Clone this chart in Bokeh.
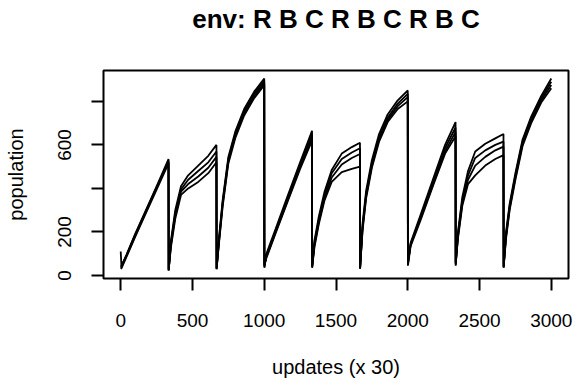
from bokeh.plotting import figure
from bokeh.models import Range1d, FixedTicker, Title
from bokeh.embed import file_html
from bokeh.resources import INLINE

title_text = "env: R B C R B C R B C"
x_label = "updates (x 30)"
y_label = "population"
x_ticks = [0, 500, 1000, 1500, 2000, 2500, 3000]
y_ticks = [0, 200, 400, 600, 800]
y_tick_labels = {0: "0", 200: "200", 400: "", 600: "600", 800: ""}

updates = [
    0, 5, 40, 100, 170, 250, 333,
    334, 350, 380, 420, 470, 540, 610, 667,
    668, 685, 710, 750, 800, 860, 930, 1000,
    1001, 1015, 1080, 1160, 1250, 1333,
    1334, 1350, 1380, 1420, 1470, 1540, 1610, 1667,
    1668, 1685, 1710, 1750, 1800, 1860, 1930, 2000,
    2001, 2020, 2090, 2180, 2260, 2333,
    2334, 2350, 2380, 2420, 2470, 2540, 2610, 2667,
    2668, 2685, 2710, 2750, 2800, 2860, 2930, 3000,
]

run1 = [
    110, 42, 95, 190, 292, 410, 535,
    22, 160, 300, 410, 460, 505, 550, 600,
    30, 175, 345, 545, 665, 765, 845, 905,
    35, 100, 215, 360, 520, 665,
    40, 160, 270, 385, 485, 560, 590, 610,
    30, 240, 390, 530, 650, 740, 805, 850,
    50, 150, 280, 450, 600, 705,
    50, 200, 360, 480, 570, 605, 630, 650,
    40, 200, 330, 470, 625, 730, 825, 905,
]
run2 = [
    35, 38, 90, 182, 285, 402, 528,
    25, 150, 285, 395, 440, 480, 520, 570,
    32, 165, 335, 535, 655, 755, 835, 895,
    40, 90, 205, 350, 510, 650,
    35, 150, 255, 370, 470, 535, 565, 585,
    35, 225, 375, 515, 635, 725, 790, 835,
    55, 145, 270, 435, 585, 680,
    55, 190, 345, 460, 540, 575, 600, 615,
    38, 190, 320, 460, 615, 720, 815, 890,
]
run3 = [
    30, 33, 85, 176, 278, 395, 515,
    28, 140, 275, 385, 420, 455, 495, 545,
    28, 155, 325, 525, 645, 745, 825, 885,
    45, 85, 200, 340, 500, 635,
    45, 140, 245, 355, 450, 510, 540, 558,
    32, 215, 365, 505, 625, 715, 778, 820,
    60, 140, 265, 425, 570, 660,
    45, 180, 330, 440, 505, 545, 575, 592,
    35, 180, 310, 450, 605, 710, 805, 875,
]
run4 = [
    40, 45, 92, 185, 288, 405, 520,
    24, 130, 260, 370, 400, 430, 470, 520,
    35, 150, 315, 515, 635, 735, 815, 875,
    50, 80, 195, 335, 490, 620,
    38, 130, 235, 345, 430, 475, 490, 500,
    38, 205, 355, 495, 615, 705, 765, 800,
    45, 135, 255, 420, 560, 640,
    60, 170, 320, 420, 460, 505, 535, 553,
    42, 170, 300, 440, 595, 700, 795, 860,
]
runs = [run1, run2, run3, run4]

FONT = "Liberation Sans"

p = figure(width=574, height=381, output_backend="svg", toolbar_location=None,
           x_range=Range1d(-120, 3120), y_range=Range1d(-14, 942),
           min_border_left=103, min_border_right=6, min_border_top=70,
           min_border_bottom=103)

# empty spacer title next to the frame, the real title stacked above it
p.add_layout(Title(text=" ", text_font_size="31px", standoff=0), "above")
p.add_layout(Title(text=title_text, align="center", text_font=FONT,
                   text_font_size="26px", text_font_style="bold",
                   text_color="black", standoff=0), "above")

p.xgrid.visible = False
p.ygrid.visible = False
p.outline_line_color = "black"
p.outline_line_width = 2
p.background_fill_color = "white"
p.border_fill_color = "white"

for r in runs:
    p.line(updates, r, line_color="black", line_width=1.8)

for ax in (p.xaxis[0], p.yaxis[0]):
    ax.axis_line_color = None
    ax.major_tick_out = 12
    ax.major_tick_in = 0
    ax.major_tick_line_width = 2
    ax.major_tick_line_color = "black"
    ax.minor_tick_line_color = None
    ax.major_label_text_font = FONT
    ax.major_label_text_font_size = "19px"
    ax.major_label_text_color = "black"
    ax.axis_label_text_font = FONT
    ax.axis_label_text_font_size = "20px"
    ax.axis_label_text_font_style = "normal"
    ax.axis_label_text_color = "black"

p.xaxis.ticker = FixedTicker(ticks=x_ticks)
p.xaxis.axis_label = x_label
p.xaxis.major_label_standoff = 23
p.xaxis.axis_label_standoff = 26

p.yaxis.ticker = FixedTicker(ticks=y_ticks)
p.yaxis.major_label_overrides = y_tick_labels
p.yaxis.major_label_orientation = "vertical"
p.yaxis.axis_label = y_label
p.yaxis.major_label_standoff = 20
p.yaxis.axis_label_standoff = 29

open("out.html", "w").write(file_html(p, INLINE))
